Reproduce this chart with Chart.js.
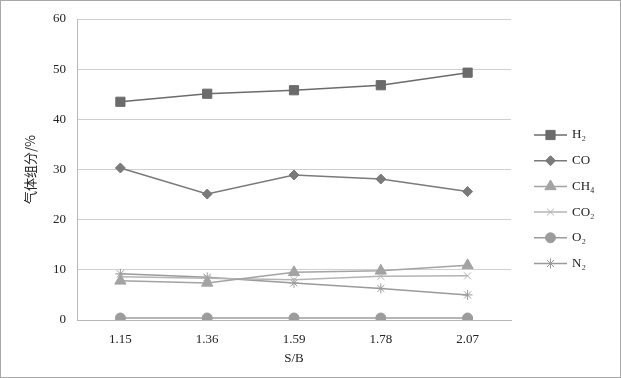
<!DOCTYPE html>
<html>
<head>
<meta charset="utf-8">
<script src="https://cdn.jsdelivr.net/npm/chart.js@4"></script>
<style>
  html, body { margin: 0; padding: 0; background: #fff; }
  #wrap { width: 621px; height: 378px; position: relative; }
</style>
</head>
<body>
<div id="wrap"><canvas id="chart"></canvas></div>
<script>
'use strict';

let canvasElem = document.getElementById('chart');

// data
let sbRatios = ['1.15', '1.36', '1.59', '1.78', '2.07'];
let h2 = [43.5, 45.1, 45.8, 46.8, 49.3];
let co = [30.3, 25.1, 28.9, 28.1, 25.6];
let ch4 = [7.8, 7.4, 9.5, 9.8, 10.9];
let co2 = [8.6, 8.3, 8.0, 8.7, 8.8];
let o2 = [0.4, 0.4, 0.4, 0.4, 0.4];
let n2 = [9.2, 8.5, 7.4, 6.3, 5.0];
let yTicks = [0, 10, 20, 30, 40, 50, 60];

let serif = '"Liberation Serif", "Times New Roman", serif';

function series(label, data, color, style, radius) {
  return {
    label: label,
    data: data,
    borderColor: color,
    backgroundColor: color,
    borderWidth: 1.5,
    pointStyle: style,
    pointRadius: radius,
    pointHoverRadius: radius,
    pointBorderWidth: 1,
    pointBorderColor: color,
    pointBackgroundColor: color,
    tension: 0,
  };
}

// frame around the whole picture
let framePlugin = {
  id: 'frame',
  afterDraw(chart) {
    let ctx = chart.ctx;
    ctx.save();
    ctx.strokeStyle = '#a8a8a8';
    ctx.lineWidth = 1;
    ctx.strokeRect(0.5, 0.5, chart.width - 1, chart.height - 1);
    ctx.restore();
  },
};

// legend with line + marker like the original
let legendPlugin = {
  id: 'lineLegend',
  afterDraw(chart) {
    let ctx = chart.ctx;
    let x0 = 534, x1 = 567, y = 135, step = 25.7;
    ctx.save();
    chart.data.datasets.forEach(ds => {
      ctx.strokeStyle = ds.borderColor;
      ctx.lineWidth = ds.borderWidth;
      ctx.beginPath();
      ctx.moveTo(x0, y);
      ctx.lineTo(x1, y);
      ctx.stroke();
      ctx.fillStyle = ds.pointBackgroundColor;
      ctx.strokeStyle = ds.pointBorderColor;
      ctx.lineWidth = ds.pointBorderWidth;
      Chart.helpers.drawPoint(ctx, {
        pointStyle: ds.pointStyle,
        radius: ds.pointRadius,
        rotation: 0,
        borderWidth: ds.pointBorderWidth,
      }, (x0 + x1) / 2, y);
      ctx.fillStyle = '#222';
      ctx.font = '13px ' + serif;
      ctx.textBaseline = 'middle';
      ctx.textAlign = 'left';
      ctx.fillText(ds.label, 572, y);
      y += step;
    });
    ctx.restore();
  },
};

function renderChart() {
  let data = {
    labels: sbRatios,
    datasets: [
      series('H\u2082', h2, '#6b6b6b', 'rect', 6.5),
      series('CO', co, '#7a7a7a', 'rectRot', 5),
      series('CH\u2084', ch4, '#a3a3a3', 'triangle', 6.5),
      series('CO\u2082', co2, '#b4b4b4', 'crossRot', 5),
      series('O\u2082', o2, '#9c9c9c', 'circle', 5),
      series('N\u2082', n2, '#9a9a9a', 'star', 5),
    ],
  };

  let config = {
    type: 'line',
    data: data,
    plugins: [framePlugin, legendPlugin],
    options: {
      responsive: true,
      maintainAspectRatio: false,
      animation: false,
      events: [],
      layout: { padding: { left: 0, right: 110, top: 19, bottom: 0 } },
      plugins: {
        legend: { display: false },
        tooltip: { enabled: false },
      },
      scales: {
        x: {
          offset: true,
          grid: { display: false, drawTicks: false },
          border: { display: true, color: '#b8b8b8', width: 1 },
          ticks: { color: '#222', font: { family: serif, size: 13 }, padding: 12, maxRotation: 0 },
          title: { display: true, text: 'S/B', color: '#222', font: { family: serif, size: 13 }, padding: { top: 0, bottom: 12 } },
          afterFit(scale) { scale.height = 58; },
        },
        y: {
          min: 0,
          max: 60,
          afterBuildTicks(scale) { scale.ticks = yTicks.map(v => ({ value: v })); },
          grid: { color: '#cfcfcf', drawTicks: false, lineWidth: 1 },
          border: { display: true, color: '#b8b8b8', width: 1 },
          ticks: { color: '#222', font: { family: serif, size: 13 }, padding: 11 },
          title: { display: true, text: '气体组分/%', color: '#222', font: { family: '"Noto Sans CJK SC", sans-serif', size: 13 }, padding: { top: 22, bottom: 0 } },
          afterFit(scale) { scale.width = 77; },
        },
      },
    },
  };

  new Chart(canvasElem, config);
}

renderChart();
</script>
</body>
</html>
